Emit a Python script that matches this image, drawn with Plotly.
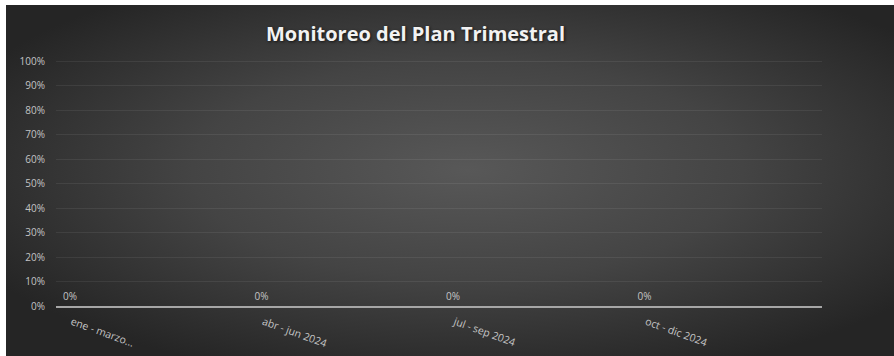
import base64
import plotly.graph_objects as go

# ---- data ----
categories = ["ene - marzo...", "abr - jun 2024", "jul - sep 2024", "oct - dic 2024"]
values = [0, 0, 0, 0]
y_tick_vals = [0, 0.1, 0.2, 0.3, 0.4, 0.5, 0.6, 0.7, 0.8, 0.9, 1.0]
y_tick_text = ["0%", "10%", "20%", "30%", "40%", "50%", "60%", "70%", "80%", "90%", "100%"]
title_text = "Monitoreo del Plan Trimestral"

W, H = 894, 356
FONT = "Open Sans, Lato, sans-serif"
TICK_COLOR = "#c4c4c4"

svg = """<svg xmlns='http://www.w3.org/2000/svg' width='888' height='351' viewBox='0 0 888 351' preserveAspectRatio='none'>
<defs><radialGradient id='g' cx='0.52' cy='0.47' r='0.62'>
<stop offset='0' stop-color='#585858'/>
<stop offset='0.5' stop-color='#444444'/>
<stop offset='1' stop-color='#252525'/>
</radialGradient></defs>
<rect width='888' height='351' fill='url(#g)'/></svg>"""
src = "data:image/svg+xml;base64," + base64.b64encode(svg.encode()).decode()

Y0, Y100 = 306, 61          # pixel rows of 0% and 100%
YMAX = 1.01
y_top_px = Y0 - (Y0 - Y100) * YMAX

fig = go.Figure()
fig.add_trace(go.Bar(
    x=categories, y=values,
    offset=-0.47, width=0.086,
    marker=dict(color="rgba(0,0,0,0)", line=dict(width=0)),
    texttemplate="%{y:.0%}", textposition="outside",
    textfont=dict(color=TICK_COLOR, size=10, family=FONT),
    cliponaxis=False, hoverinfo="skip",
))

fig.update_layout(
    width=W, height=H, autosize=False,
    margin=dict(l=0, r=0, t=0, b=0, pad=0, autoexpand=False),
    paper_bgcolor="white",
    plot_bgcolor="rgba(0,0,0,0)",
    showlegend=False,
    images=[dict(source=src, xref="paper", yref="paper",
                 x=6 / W, y=1 - 5 / H, sizex=1 - 6 / W, sizey=1 - 5 / H,
                 xanchor="left", yanchor="top", sizing="stretch", layer="below")],
    xaxis=dict(
        domain=[56 / W, 822 / W], automargin=False,
        tickangle=20, ticklabelshift=-80, ticklabelstandoff=4,
        tickfont=dict(color=TICK_COLOR, size=10.5, family=FONT),
        showgrid=False, showline=True, linecolor="#a6a6a6", linewidth=2,
        ticks="", zeroline=False,
    ),
    yaxis=dict(
        domain=[(H - Y0) / H, (H - y_top_px) / H], automargin=False,
        range=[0, YMAX],
        tickvals=y_tick_vals, ticktext=y_tick_text,
        tickfont=dict(color=TICK_COLOR, size=10, family=FONT),
        showgrid=True, gridcolor="rgba(255,255,255,0.07)", gridwidth=1,
        zeroline=False, showline=False, ticks="", ticklabelstandoff=10,
    ),
    annotations=[dict(
        text=title_text, xref="paper", yref="paper",
        x=415 / W, y=1 - 33 / H, xanchor="center", yanchor="middle",
        showarrow=False,
        font=dict(color="#f2f2f2", size=20, family=FONT, weight=700,
                  shadow="1px 1px 3px rgba(0,0,0,0.7)"),
    )],
)

fig.write_html("out.html", config={"displayModeBar": False},
               post_script="document.body.style.margin='0';document.body.style.overflow='hidden';")
